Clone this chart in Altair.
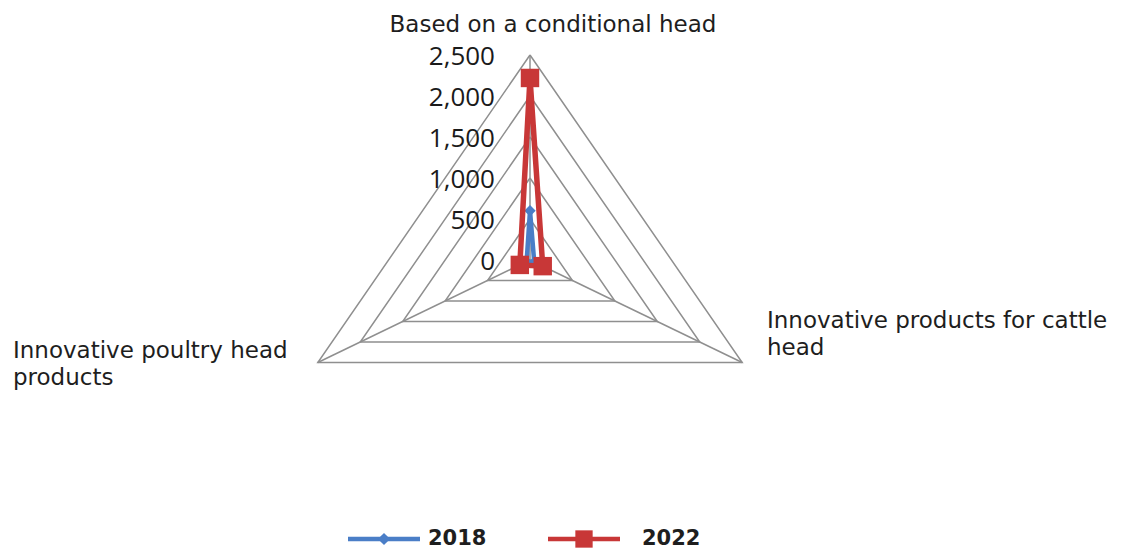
import altair as alt
import pandas as pd

# ---------------- data ----------------
categories = [
    "Based on a conditional head",
    "Innovative products for cattle head",
    "Innovative poultry head products",
]
years = ["2018", "2022"]
values_2018 = [600, 50, 40]
values_2022 = [2220, 150, 120]
ticks = [0, 500, 1000, 1500, 2000, 2500]

# ---------------- styling / layout ----------------
colors = ["#4A7EC7", "#C83737"]
FONT = "Open Sans"
LFONT = "DejaVu Sans"
W, H = 1121, 551
CX, CY = 530, 260      # pixel centre of the radar
RX, RY = 245, 205      # pixel radius of the outer ring (picture is stretched)
R_MAX = ticks[-1]

ux = R_MAX / RX
uy = R_MAX / RY
xs = alt.Scale(domain=[-CX * ux, (W - CX) * ux], nice=False, zero=False)
ys = alt.Scale(domain=[-(H - CY) * uy, CY * uy], nice=False, zero=False)
cscale = alt.Scale(domain=years, range=colors)

n = len(categories)
rows = []
for yr, vals in zip(years, [values_2018, values_2022]):
    for k in range(n + 1):
        rows.append({"year": yr, "k": k, "cat": categories[k % n], "value": vals[k % n]})
series = pd.DataFrame(rows)

grid = pd.DataFrame([{"ring": t, "k": k, "value": t} for t in ticks if t > 0 for k in range(n + 1)])
spokes = pd.DataFrame({"k": list(range(n)), "value": [R_MAX] * n})
tick_df = pd.DataFrame({"value": ticks})


def polar(ch):
    return ch.transform_calculate(
        theta=f"datum.k * 2 * PI / {n}", x0="0", y0="0"
    ).transform_calculate(
        px="datum.value * sin(datum.theta)",
        py="datum.value * cos(datum.theta)",
    )


X = lambda f: alt.X(f, scale=xs, axis=None)
Y = lambda f: alt.Y(f, scale=ys, axis=None)

GRID_COL = "#8f8f8f"
grid_layer = polar(alt.Chart(grid)).mark_line(color=GRID_COL, strokeWidth=1.5).encode(
    x=X("px:Q"), y=Y("py:Q"), detail="ring:N", order="k:Q"
)
spoke_layer = polar(alt.Chart(spokes)).mark_rule(color=GRID_COL, strokeWidth=1.5).encode(
    x=X("x0:Q"), y=Y("y0:Q"), x2="px:Q", y2="py:Q"
)

tick_layer = alt.Chart(tick_df).transform_calculate(x0="0").mark_text(
    align="right", baseline="middle", dx=-35, dy=2, fontSize=26, font=FONT, color="#1a1a1a"
).encode(x=X("x0:Q"), y=Y("value:Q"), text=alt.Text("value:Q", format=","))

series_layers = []
shapes = ["diamond", "square"]
sizes = [130, 340]
widths = [4.5, 5.5]
for i, yr in enumerate(years):
    base = polar(alt.Chart(series)).transform_filter(alt.datum.year == yr)
    series_layers.append(
        base.mark_line(strokeWidth=widths[i]).encode(
            x=X("px:Q"), y=Y("py:Q"), order="k:Q",
            color=alt.Color("year:N", scale=cscale, legend=None),
        )
    )
    series_layers.append(
        base.transform_filter(alt.datum.k < n).mark_point(
            filled=True, opacity=1, shape=shapes[i], size=sizes[i]
        ).encode(
            x=X("px:Q"), y=Y("py:Q"),
            color=alt.Color("year:N", scale=cscale, legend=None),
        )
    )

# category labels
def wrap(name, first):
    w = name.split(" ")
    return [" ".join(w[:first]), " ".join(w[first:])]

lab_style = dict(font=LFONT, fontSize=23, color="#1e1e1e", lineHeight=27, baseline="alphabetic")
lab0 = alt.Chart(pd.DataFrame({"c": [categories[0]]})).mark_text(align="center", **lab_style).encode(
    x=alt.value(553), y=alt.value(32), text="c:N"
)
lab1 = alt.Chart(pd.DataFrame({"c": [0]})).mark_text(align="left", **lab_style).encode(
    x=alt.value(767), y=alt.value(328), text=alt.value(wrap(categories[1], 4))
)
lab2 = alt.Chart(pd.DataFrame({"c": [0]})).mark_text(align="left", **lab_style).encode(
    x=alt.value(13), y=alt.value(358), text=alt.value(wrap(categories[2], 3))
)

# legend
legend_layers = []
leg_line = [(348, 420), (548, 620)]
leg_text = [428, 642]
LY = 539
for i, yr in enumerate(years):
    d = pd.DataFrame({"year": [yr]})
    col = alt.Color("year:N", scale=cscale, legend=None)
    legend_layers.append(
        alt.Chart(d).mark_rule(strokeWidth=4.5).encode(
            x=alt.value(leg_line[i][0]), x2=alt.value(leg_line[i][1]), y=alt.value(LY), color=col
        )
    )
    legend_layers.append(
        alt.Chart(d).mark_point(filled=True, opacity=1, shape=shapes[i], size=[150, 300][i]).encode(
            x=alt.value((leg_line[i][0] + leg_line[i][1]) / 2), y=alt.value(LY), color=col
        )
    )
    legend_layers.append(
        alt.Chart(d).mark_text(align="left", baseline="middle", font=LFONT, fontSize=21,
                               fontWeight="bold", color="#1e1e1e").encode(
            x=alt.value(leg_text[i]), y=alt.value(LY), text="year:N"
        )
    )

chart = alt.layer(
    grid_layer, spoke_layer, *series_layers, tick_layer, lab0, lab1, lab2, *legend_layers
).properties(
    width=W, height=H, autosize=alt.AutoSizeParams(type="none"), padding=0
).configure_view(stroke=None)

chart.save("out.html", embed_options={"renderer": "svg", "actions": False})
